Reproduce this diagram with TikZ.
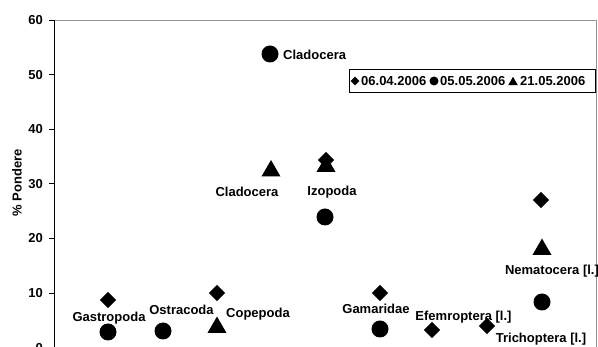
\documentclass[tikz,border=0pt]{standalone}
\usepackage{fontspec}
\setmainfont{Liberation Sans}
\usetikzlibrary{shapes.geometric}
\begin{document}
\begin{tikzpicture}[x=1pt,y=-1pt,
  txt/.style={font=\fontsize{13}{15}\selectfont\bfseries, inner sep=0pt, yshift=-4.6pt},
  lbl/.style={txt, anchor=base},
  lblw/.style={txt, anchor=base west},
  lble/.style={txt, anchor=base east},
  dia/.style={diamond, fill=black, inner sep=0pt, minimum width=16.5pt, minimum height=16.5pt},
  dot/.style={circle, fill=black, inner sep=0pt, minimum size=17pt},
  tri/.style={regular polygon, regular polygon sides=3, fill=black, inner sep=0pt, minimum size=22pt},
  sdia/.style={diamond, fill=black, inner sep=0pt, minimum width=9pt, minimum height=9pt},
  sdot/.style={circle, fill=black, inner sep=0pt, minimum size=9pt},
  stri/.style={regular polygon, regular polygon sides=3, fill=black, inner sep=0pt, minimum size=11pt},
  frame/.style={draw=black!42, line width=0.8pt},
  axis/.style={draw=black, line width=0.9pt}]
\useasboundingbox (0,0) rectangle (598,347);
% plot frame
\coordinate (tl) at (54,20);
\coordinate (tr) at (596,20);
\coordinate (br) at (596,350);
\coordinate (bl) at (54,350);
\draw[frame] (tl) -- (tr) -- (br);
\draw[axis] (bl) -- (tl);
% ticks and labels
\foreach \v/\y in {60/20,50/74.6,40/129.2,30/183.8,20/238.4,10/293,0/347.6}{
  \coordinate (t\v) at (54,\y);
  \coordinate (u\v) at (49,\y);
  \draw[axis] (u\v) -- (t\v);
  \node[lble] (n\v) at (43,\y) {\v};
}
\node[font=\fontsize{13}{15}\selectfont\bfseries, inner sep=0pt, rotate=90, anchor=center] (ylab) at (17,183) {\% Pondere};
% Gastropoda
\node[dia] (gasd) at (108,300) {};
\node[dot] (gasc) at (108,332) {};
\node[lbl] (gasl) at (109,317) {Gastropoda};
% Ostracoda
\node[dot] (ostc) at (163,331) {};
\node[lbl] (ostl) at (181.5,310) {Ostracoda};
% Copepoda
\node[dia] (copd) at (217,293) {};
\node[tri] (copt) at (217,327.5) {};
\node[lblw] (copl) at (226,313) {Copepoda};
% Cladocera
\node[dot] (clac) at (270,54) {};
\node[lblw] (clal1) at (283,55) {Cladocera};
\node[tri] (clat) at (271,171) {};
\node[lbl] (clal2) at (247,192) {Cladocera};
% Izopoda
\node[dia] (izod) at (326,160) {};
\node[tri] (izot) at (326,166.5) {};
\node[dot] (izoc) at (325,217) {};
\node[lbl] (izol) at (332,191) {Izopoda};
% Gamaridae
\node[dia] (gamd) at (380,293) {};
\node[dot] (gamc) at (380,329) {};
\node[lbl] (gaml) at (376,309) {Gamaridae};
% Efemroptera
\node[dia] (efed) at (432,330) {};
\node[lbl] (efel) at (463.5,316) {Efemroptera [l.]};
% Trichoptera
\node[dia] (trid) at (487,326) {};
\node[lbl] (tril) at (541,338) {Trichoptera [l.]};
% Nematocera
\node[dia] (nemd) at (541,200) {};
\node[tri] (nemt) at (542,249.5) {};
\node[dot] (nemc) at (542,302) {};
\node[lbl] (neml) at (552,270) {Nematocera [l.]};
% legend
\node[draw=black, line width=0.8pt, fill=white, minimum width=246pt, minimum height=23pt, inner sep=0pt, anchor=north west] (leg) at (349,69) {};
\node[sdia] (lg1) at (355,81) {};
\node[lblw] (lt1) at (361,81) {06.04.2006};
\node[sdot] (lg2) at (434,81) {};
\node[lblw] (lt2) at (440,81) {05.05.2006};
\node[stri] (lg3) at (513,82.3) {};
\node[lblw] (lt3) at (520,81) {21.05.2006};
\end{tikzpicture}
\end{document}
